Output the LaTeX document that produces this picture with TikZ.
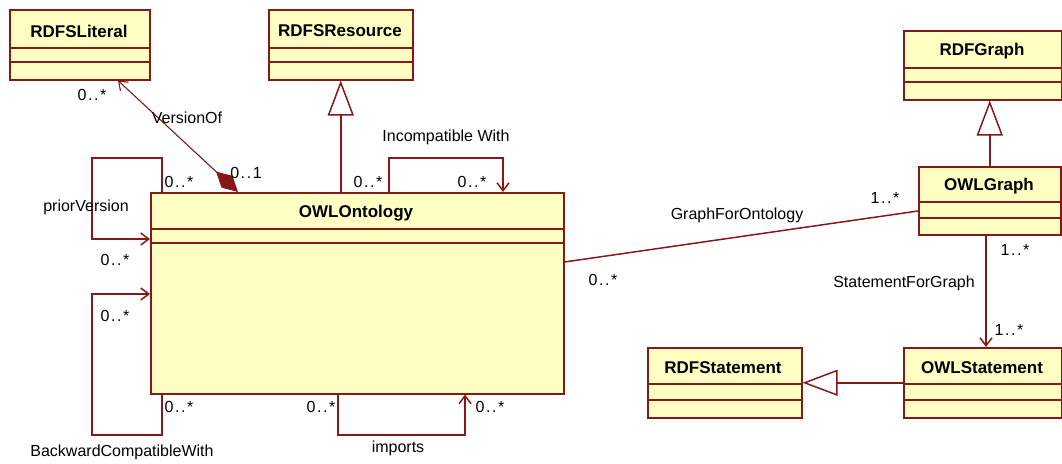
\documentclass[tikz,border=0pt]{standalone}
\usepackage{fontspec}
\setmainfont{Liberation Sans}
\newfontfamily\multfont[LetterSpace=10]{Liberation Sans}
\usetikzlibrary{arrows.meta}
\definecolor{classfill}{HTML}{FFFFC4}
\definecolor{classline}{HTML}{861818}
\tikzset{
    classbox/.style={draw=classline, fill=classfill, line width=1.5pt, anchor=north west, inner sep=0pt},
    classname/.style={font=\fontsize{17}{20}\selectfont\bfseries},
    compartment/.style={draw=classline, line width=1.5pt},
    assoc/.style={draw=classline, line width=1.5pt},
    navigable/.style={assoc, -{Straight Barb[length=8pt,width=12pt]}},
    generalize/.style={assoc, -{Triangle[open,length=35pt,width=26pt]}},
    rolelabel/.style={font=\fontsize{16}{19}\selectfont},
    multiplicity/.style={font=\fontsize{16}{19}\multfont},
}
\begin{document}
\begin{tikzpicture}[x=1pt, y=-1pt]
            \useasboundingbox (0,0) rectangle (1062,463);

            \node[classbox, minimum width=140pt, minimum height=70pt] (literal) at (9,9) {};
            \node[classbox, minimum width=144pt, minimum height=70pt] (resource) at (268,9) {};
            \node[classbox, minimum width=413pt, minimum height=201pt] (ontology) at (150,192) {};
            \node[classbox, minimum width=158pt, minimum height=69pt] (rdfgraph) at (903,30) {};
            \node[classbox, minimum width=142pt, minimum height=68pt] (owlgraph) at (918,166) {};
            \node[classbox, minimum width=154pt, minimum height=70pt] (rdfstatement) at (647,347) {};
            \node[classbox, minimum width=158pt, minimum height=70pt] (owlstatement) at (903,347) {};

            \node[classname] (literal-name) at (79,31) {RDFSLiteral};
            \node[classname] (resource-name) at (340,31) {RDFSResource};
            \node[classname] (ontology-name) at (356,213) {OWLOntology};
            \node[classname] (rdfgraph-name) at (982,51) {RDFGraph};
            \node[classname] (owlgraph-name) at (989,186) {OWLGraph};
            \node[classname] (rdfstatement-name) at (723,368) {RDFStatement};
            \node[classname] (owlstatement-name) at (982,368) {OWLStatement};

            \draw[compartment] (literal.west |- 0,48) -- (literal.east |- 0,48);
            \draw[compartment] (literal.west |- 0,62) -- (literal.east |- 0,62);
            \draw[compartment] (resource.west |- 0,48) -- (resource.east |- 0,48);
            \draw[compartment] (resource.west |- 0,62) -- (resource.east |- 0,62);
            \draw[compartment] (ontology.west |- 0,229) -- (ontology.east |- 0,229);
            \draw[compartment] (ontology.west |- 0,243) -- (ontology.east |- 0,243);
            \draw[compartment] (rdfgraph.west |- 0,68) -- (rdfgraph.east |- 0,68);
            \draw[compartment] (rdfgraph.west |- 0,82) -- (rdfgraph.east |- 0,82);
            \draw[compartment] (owlgraph.west |- 0,202) -- (owlgraph.east |- 0,202);
            \draw[compartment] (owlgraph.west |- 0,218) -- (owlgraph.east |- 0,218);
            \draw[compartment] (rdfstatement.west |- 0,384) -- (rdfstatement.east |- 0,384);
            \draw[compartment] (rdfstatement.west |- 0,400) -- (rdfstatement.east |- 0,400);
            \draw[compartment] (owlstatement.west |- 0,384) -- (owlstatement.east |- 0,384);
            \draw[compartment] (owlstatement.west |- 0,400) -- (owlstatement.east |- 0,400);

            \draw[generalize] (ontology.north -| resource.south) -- (resource.south);
            \draw[generalize] (owlgraph.north) -- (rdfgraph.south -| owlgraph.north);
            \draw[generalize] (owlstatement.west) -- (rdfstatement.east);

            \draw[assoc, line width=1.1pt, {Diamond[length=30pt,width=16pt]}-{Straight Barb[length=8pt,width=12pt]}] (ontology.north -| 238,0) -- (literal.south -| 118,0);
            \draw[navigable] (ontology.north -| 162,0) |- (92,158) |- (ontology.west |- 0,239);
            \draw[navigable] (ontology.south -| 162,0) |- (92,435) |- (ontology.west |- 0,294);
            \draw[navigable] (ontology.south -| 338,0) |- (465,435) -- (ontology.south -| 465,0);
            \draw[navigable] (ontology.north -| 389,0) |- (503,158) -- (ontology.north -| 503,0);
            \draw[assoc] (ontology.east |- 0,262) -- (owlgraph.west |- 0,211);
            \draw[navigable] (owlgraph.south -| 986,0) -- (owlstatement.north -| 986,0);

            \node[rolelabel] (version-label) at (187,118) {VersionOf};
            \node[multiplicity] (version-literal) at (92,95) {0..*};
            \node[multiplicity] (version-ontology) at (246,173) {0..1};
            \node[rolelabel] (prior-label) at (86,207) {priorVersion};
            \node[multiplicity] (prior-from) at (179,182) {0..*};
            \node[multiplicity] (prior-to) at (115,260) {0..*};
            \node[multiplicity] (backward-to) at (115,316) {0..*};
            \node[multiplicity] (backward-from) at (179,407) {0..*};
            \node[rolelabel] (backward-label) at (122,452) {BackwardCompatibleWith};
            \node[multiplicity] (imports-from) at (321,407) {0..*};
            \node[multiplicity] (imports-to) at (490,407) {0..*};
            \node[rolelabel] (imports-label) at (398,448) {imports};
            \node[rolelabel] (incompatible-label) at (446,137) {Incompatible With};
            \node[multiplicity] (incompatible-from) at (368,182) {0..*};
            \node[multiplicity] (incompatible-to) at (472,182) {0..*};
            \node[rolelabel] (graph-label) at (737,215) {GraphForOntology};
            \node[multiplicity] (graph-owl) at (885,198) {1..*};
            \node[multiplicity] (graph-ontology) at (603,280) {0..*};
            \node[rolelabel] (statement-label) at (904,283) {StatementForGraph};
            \node[multiplicity] (statement-from) at (1015,250) {1..*};
            \node[multiplicity] (statement-to) at (1009,330) {1..*};
\end{tikzpicture}
\end{document}
